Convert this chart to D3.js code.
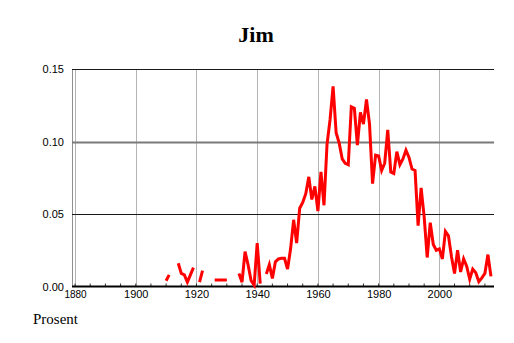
<!DOCTYPE html>
<html>
<head>
<meta charset="utf-8">
<script src="https://cdn.jsdelivr.net/npm/d3@7"></script>
<style>
  body { margin: 0; background: #fff; }
  svg { display: block; }
  .tick text { font-family: "Liberation Sans", Arial, sans-serif; font-size: 11px; fill: #000; }
</style>
</head>
<body>
<svg id="chart" width="514" height="343"></svg>
<script>
// share of boys named Jim, percent by year (null = no data)
var title = "Jim";
var yLabel = "Prosent";
var firstYear = 1910;
var values = [
  0.004, 0.008, null, null, 0.016, 0.009, 0.008, 0.003, 0.008, 0.013,   // 1910
  null, 0.003, 0.011, null, null, null, 0.0045, 0.0045, 0.0045, 0.0045, // 1920
  0.0045, null, null, null, 0.009, 0.003, 0.024, 0.015, 0.004, 0.001,   // 1930
  0.030, 0.002, null, 0.0086, 0.015, 0.0056, 0.017, 0.019, 0.0195, 0.0195, // 1940
  0.012, 0.026, 0.046, 0.030, 0.054, 0.058, 0.064, 0.0756, 0.060, 0.069, // 1950
  0.052, 0.079, 0.056, 0.098, 0.115, 0.138, 0.106, 0.099, 0.088, 0.085, // 1960
  0.084, 0.124, 0.123, 0.0975, 0.120, 0.112, 0.129, 0.112, 0.071, 0.0906, // 1970
  0.090, 0.080, 0.085, 0.108, 0.079, 0.078, 0.093, 0.084, 0.088, 0.094, // 1980
  0.089, 0.081, 0.080, 0.042, 0.068, 0.048, 0.020, 0.044, 0.029, 0.025, // 1990
  0.026, 0.019, 0.038, 0.035, 0.0205, 0.009, 0.025, 0.010, 0.019, 0.014, // 2000
  0.005, 0.012, 0.0095, 0.0033, 0.006, 0.009, 0.022, 0.007              // 2010
];
var xTicks = [1880, 1900, 1920, 1940, 1960, 1980, 2000];
var xMinorTicks = d3.range(1880, 2018, 5);
var yTicks = [0, 0.05, 0.10, 0.15];

var data = values.map(function (v, i) { return { year: firstYear + i, v: v }; });

var svg = d3.select("#chart");
var x = d3.scaleLinear().domain([1879, 2018]).range([72, 494]);
var y = d3.scaleLinear().domain([0, 0.15]).range([286.5, 69]);

// vertical grid
svg.append("g").selectAll("line")
  .data(xTicks)
  .enter().append("line")
  .attr("x1", function (d) { return Math.round(x(d)) + 0.5; })
  .attr("x2", function (d) { return Math.round(x(d)) + 0.5; })
  .attr("y1", y(0.15)).attr("y2", y(0))
  .attr("stroke", "#b4b4b4").attr("stroke-width", 1);

// left border
svg.append("line")
  .attr("x1", 72.5).attr("x2", 72.5)
  .attr("y1", y(0.15)).attr("y2", y(0))
  .attr("stroke", "#909090").attr("stroke-width", 1);

// horizontal grid (0.10 is drawn grey and heavier)
svg.append("g").selectAll("line")
  .data(yTicks.filter(function (d) { return d > 0; }))
  .enter().append("line")
  .attr("x1", 72).attr("x2", 494)
  .attr("y1", function (d) { return Math.round(y(d)) + 0.5; })
  .attr("y2", function (d) { return Math.round(y(d)) + 0.5; })
  .attr("stroke", function (d) { return d === 0.10 ? "#7a7a7a" : "#1a1a1a"; })
  .attr("stroke-width", function (d) { return d === 0.10 ? 2 : 1; });

// y axis labels
var yAxis = svg.append("g")
  .attr("transform", "translate(72,0)")
  .call(d3.axisLeft(y).tickValues(yTicks).tickFormat(d3.format(".2f")).tickSize(0).tickPadding(8));
yAxis.select(".domain").remove();
yAxis.selectAll(".tick text").attr("dy", "0.36em");

// x axis
var xAxis = svg.append("g")
  .attr("transform", "translate(0," + y(0) + ")")
  .call(d3.axisBottom(x).tickValues(xTicks).tickFormat(d3.format("d")).tickSize(0).tickPadding(4));
xAxis.select(".domain").remove();
xAxis.selectAll(".tick text")
  .filter(function (d) { return d === 1880; })
  .style("font-size", "10px");

// minor ticks pointing up
svg.append("g").selectAll("line")
  .data(xMinorTicks)
  .enter().append("line")
  .attr("x1", function (d) { return x(d); })
  .attr("x2", function (d) { return x(d); })
  .attr("y1", y(0)).attr("y2", y(0) - 3)
  .attr("stroke", "#333").attr("stroke-width", 1);

svg.append("line")
  .attr("x1", 72).attr("x2", 494)
  .attr("y1", y(0)).attr("y2", y(0))
  .attr("stroke", "#000").attr("stroke-width", 2);

// the series
var line = d3.line()
  .defined(function (d) { return d.v !== null; })
  .x(function (d) { return x(d.year); })
  .y(function (d) { return y(d.v); });

svg.append("path")
  .datum(data)
  .attr("d", line)
  .attr("fill", "none")
  .attr("stroke", "#ff0000")
  .attr("stroke-width", 3)
  .attr("stroke-linejoin", "miter");

// title and unit
svg.append("text")
  .attr("x", 256).attr("y", 42)
  .attr("text-anchor", "middle")
  .style("font-family", "'Liberation Serif', 'Times New Roman', serif")
  .style("font-weight", "bold")
  .style("font-size", "22px")
  .text(title);

svg.append("text")
  .attr("x", 33).attr("y", 324)
  .style("font-family", "'Liberation Serif', 'Times New Roman', serif")
  .style("font-size", "15px")
  .text(yLabel);
</script>
</body>
</html>
